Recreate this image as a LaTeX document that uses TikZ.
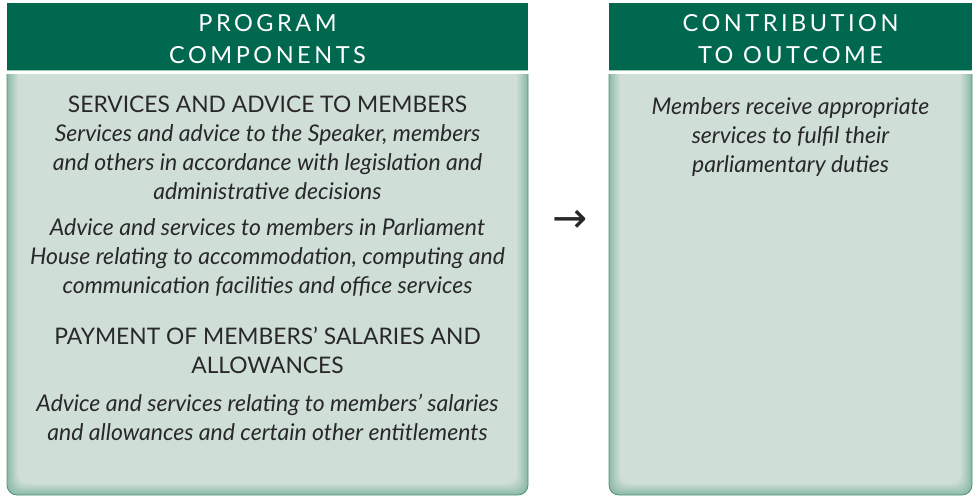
\documentclass[tikz,border=0pt]{standalone}
\usepackage{fontspec}
\setmainfont{Lato}
\newfontfamily\arrowfont{DejaVu Sans}
\usepackage{tikz}
\usetikzlibrary{calc}

\definecolor{headgreen}{RGB}{0,104,78}
\definecolor{bodygreen}{RGB}{207,222,215}
\definecolor{glowgreen}{RGB}{140,186,166}
\definecolor{edgegreen}{RGB}{78,146,118}
\definecolor{rulegreen}{RGB}{160,200,182}
\definecolor{textgrey}{RGB}{40,40,40}

% one panel: header band and body with a soft inner edge
% #1 left x, #2 right x
\newcommand{\greenpanel}[2]{%
  \fill[headgreen] (#1,3) rectangle (#2,70);
  \draw[rulegreen, line width=1.5pt] (#1,70.5) -- (#2,70.5);
  \foreach \i in {0,...,12} {
    \pgfmathsetmacro{\pct}{min(100,\i*9)}
    \fill[bodygreen!\pct!glowgreen]
      (#1+\i,74) [rounded corners=10pt] -- (#1+\i,495-\i) -- (#2-\i,495-\i)
      [sharp corners] -- (#2-\i,74) -- cycle;
  }
  \draw[edgegreen, line width=0.8pt]
    (#1,74) [rounded corners=10pt] -- (#1,495) -- (#2,495)
    [sharp corners] -- (#2,74);
}

\tikzset{
  headtext/.style={text=white, align=center,
    font=\fontsize{23.5}{32}\selectfont\addfontfeatures{LetterSpace=15}},
  itemhead/.style={text=textgrey, align=center,
    font=\fontsize{22.8}{29}\selectfont},
  itemtext/.style={text=textgrey, align=center,
    font=\fontsize{23}{29}\selectfont\itshape},
}

\begin{document}
\begin{tikzpicture}[x=1pt, y=-1pt]
  \useasboundingbox (0,0) rectangle (973,496);
  \greenpanel{7}{528}
  \greenpanel{609}{972}

  % left panel
  \node[headtext] (components) at (267.5,39) {PROGRAM\\COMPONENTS};
  \node[itemhead] (services) at (267.5,104) {SERVICES AND ADVICE TO MEMBERS};
  \node[itemtext] (speaker) at (267.5,162)
    {Services and advice to the Speaker, members\\
     and others in accordance with legislation and\\
     administrative decisions};
  \node[itemtext] (house) at (267.5,257)
    {Advice and services to members in Parliament\\
     House relating to accommodation, computing and\\
     communication facilities and office services};
  \node[itemhead] (payment) at (267.5,350.5)
    {PAYMENT OF MEMBERS' SALARIES AND\\ALLOWANCES};
  \node[itemtext] (salaries) at (267.5,417.5)
    {Advice and services relating to members' salaries\\
     and allowances and certain other entitlements};

  % arrow between panels
  \node[text=textgrey, font=\fontsize{42}{42}\arrowfont] (arrow) at (570,221) {→};

  % right panel
  \node[headtext] (outcome) at (790.5,39) {CONTRIBUTION\\TO OUTCOME};
  \node[itemtext] (receive) at (790.5,137)
    {Members receive appropriate\\
     services to fulfil their\\
     parliamentary duties};
\end{tikzpicture}
\end{document}
